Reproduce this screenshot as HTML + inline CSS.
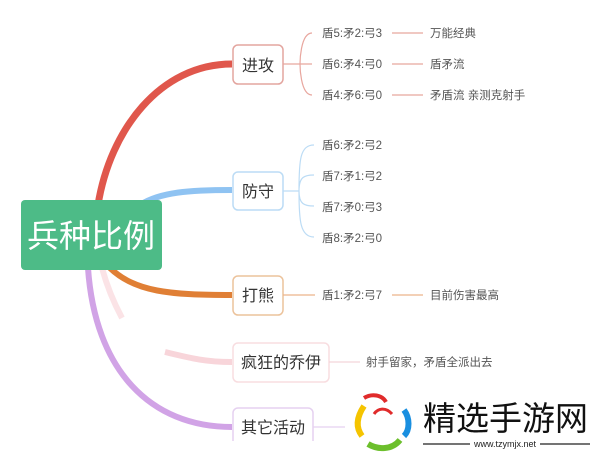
<!DOCTYPE html>
<html><head><meta charset="utf-8"><style>
body{margin:0;width:600px;height:458px;background:#fff;overflow:hidden}
svg{display:block}
text{font-family:"Liberation Sans","Noto Sans CJK SC",sans-serif}
</style></head><body>
<svg width="600" height="458" viewBox="0 0 600 458">
<path d="M98 205 C110 130 160 64 232 64" stroke="#e0574c" stroke-width="7" fill="none"/>
<path d="M140 205 C160 192 190 190 232 190" stroke="#8fc3f2" stroke-width="6" fill="none"/>
<path d="M110 268 C135 292 170 295 232 295" stroke="#e07f35" stroke-width="6" fill="none"/>
<path d="M102 268 C108 290 115 305 122 318" stroke="#fbe3e6" stroke-width="6" fill="none"/>
<path d="M165 352 C190 358 205 362 232 362" stroke="#f8d5da" stroke-width="6" fill="none"/>
<path d="M88 268 C95 370 150 427 232 427" stroke="#d1a3e6" stroke-width="6" fill="none"/>
<rect x="21" y="200" width="141" height="70" rx="4" fill="#4dbb87"/>
<text x="91" y="247" font-size="32" fill="#fff" text-anchor="middle">兵种比例</text>
<rect x="233" y="45" width="50" height="39" rx="5" fill="#fff" stroke="#e3a59f" stroke-width="1.5"/>
<text x="258" y="71" font-size="16" fill="#333" text-anchor="middle">进攻</text>
<path d="M283 64 H300 M312 33 C300 33 300 64 300 64 C300 64 300 95 312 95 M300 64 H312" stroke="#e8a69e" stroke-width="1.2" fill="none"/>
<g font-size="11.5" fill="#555">
<text x="322" y="37">盾5:矛2:弓3</text><text x="322" y="68">盾6:矛4:弓0</text><text x="322" y="99">盾4:矛6:弓0</text>
<text x="430" y="37">万能经典</text><text x="430" y="68">盾矛流</text><text x="430" y="99">矛盾流 亲测克射手</text>
</g>
<path d="M392 33 H423 M392 64 H423 M392 95 H423" stroke="#e8a69e" stroke-width="1.2"/>
<rect x="233" y="172" width="50" height="38" rx="5" fill="#fff" stroke="#bcdcf5" stroke-width="1.5"/>
<text x="258" y="197" font-size="16" fill="#333" text-anchor="middle">防守</text>
<path d="M283 191 H299 M314 145 C300 145 299 160 299 191 C299 220 300 237 314 237 M299 191 C299 177 304 175 314 175 M299 191 C299 204 304 206 314 206" stroke="#bcdcf5" stroke-width="1.2" fill="none"/>
<g font-size="11.5" fill="#555">
<text x="322" y="149">盾6:矛2:弓2</text><text x="322" y="180">盾7:矛1:弓2</text><text x="322" y="211">盾7:矛0:弓3</text><text x="322" y="242">盾8:矛2:弓0</text>
</g>
<rect x="233" y="276" width="50" height="39" rx="5" fill="#fff" stroke="#ecc39c" stroke-width="1.5"/>
<text x="258" y="301" font-size="16" fill="#333" text-anchor="middle">打熊</text>
<path d="M283 295 H315 M392 295 H423" stroke="#ecb48a" stroke-width="1.2"/>
<g font-size="11.5" fill="#555"><text x="322" y="299">盾1:矛2:弓7</text><text x="430" y="299">目前伤害最高</text></g>
<rect x="233" y="343" width="96" height="39" rx="5" fill="#fff" stroke="#f8dde0" stroke-width="1.5"/>
<text x="281" y="368" font-size="16" fill="#333" text-anchor="middle">疯狂的乔伊</text>
<path d="M329 362 H360" stroke="#f3d5d9" stroke-width="1.2"/>
<text x="366" y="366" font-size="11.5" fill="#555">射手留家，矛盾全派出去</text>
<rect x="233" y="408" width="80" height="38" rx="5" fill="#fff" stroke="#e5d1f0" stroke-width="1.5"/>
<text x="273" y="433" font-size="16" fill="#333" text-anchor="middle">其它活动</text>
<path d="M313 427 H345" stroke="#e5d1f0" stroke-width="1.2"/>
<rect x="0" y="441" width="600" height="17" fill="#fff"/>
<g>
<path d="M364 398 C372 393 382 395 386 402" stroke="#e02b2b" stroke-width="4" fill="none"/>
<path d="M392 414 C386 407 378 408 374 414" stroke="#e02b2b" stroke-width="3" fill="none"/>
<path d="M364 406 C356 418 356 428 362 436" stroke="#f5c400" stroke-width="6" fill="none"/>
<path d="M368 444 C378 450 392 450 400 440" stroke="#6cbf2c" stroke-width="6" fill="none"/>
<path d="M404 410 C410 418 410 430 404 436" stroke="#1a8fe0" stroke-width="6" fill="none"/>
<text x="423" y="430" font-size="33" fill="#111">精选手游网</text>
<path d="M423 444 H470 M540 444 H590" stroke="#222" stroke-width="1.3"/>
<text x="505" y="447" font-size="9" fill="#222" text-anchor="middle">www.tzymjx.net</text>
</g>
</svg>
</body></html>
